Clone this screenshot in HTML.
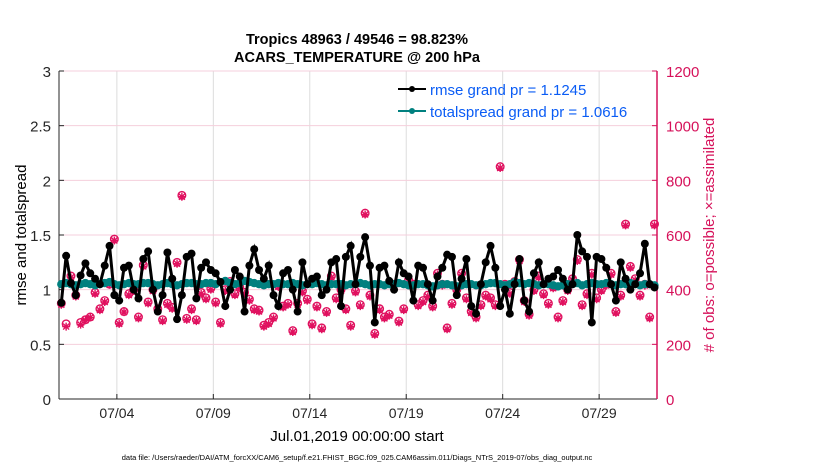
<!DOCTYPE html>
<html><head><meta charset="utf-8"><style>
body{margin:0;background:#fff;}
svg text{font-family:"Liberation Sans",Arial,sans-serif;}
</style></head><body>
<svg width="830" height="470" xmlns="http://www.w3.org/2000/svg">
<g id="grid"></g>
<g id="axes"></g>
<g id="marks"></g>
<text x="357" y="44" font-size="14.5" font-weight="bold" text-anchor="middle">Tropics 48963 / 49546 = 98.823%</text>
<text x="357" y="62" font-size="14.5" font-weight="bold" text-anchor="middle">ACARS_TEMPERATURE @ 200 hPa</text>
<text transform="translate(26,235) rotate(-90)" font-size="15" text-anchor="middle">rmse and totalspread</text>
<text transform="translate(714,235) rotate(-90)" font-size="15" text-anchor="middle" fill="#d6115a"># of obs: o=possible; ×=assimilated</text>
<text x="357" y="441" font-size="15" text-anchor="middle">Jul.01,2019 00:00:00 start</text>
<text x="357" y="460" font-size="7.5" text-anchor="middle">data file: /Users/raeder/DAI/ATM_forcXX/CAM6_setup/f.e21.FHIST_BGC.f09_025.CAM6assim.011/Diags_NTrS_2019-07/obs_diag_output.nc</text>
<g>
<line x1="398" y1="89" x2="426" y2="89" stroke="#000" stroke-width="2"/><circle cx="412" cy="89" r="3" fill="#000"/>
<text x="430" y="95" font-size="15" fill="#0a5cf5">rmse grand pr = 1.1245</text>
<line x1="398" y1="111" x2="426" y2="111" stroke="#00807f" stroke-width="2"/><circle cx="412" cy="111" r="3" fill="#00807f"/>
<text x="430" y="117" font-size="15" fill="#0a5cf5">totalspread grand pr = 1.0616</text>
</g>
</svg>
<script>
const xTickLabels=["07/04","07/09","07/14","07/19","07/24","07/29"];
const xTickDays=[3,8,13,18,23,28];
const yLeftTicks=[0,0.5,1,1.5,2,2.5,3];
const yRightTicks=[0,200,400,600,800,1000,1200];
const rmse=[0.88,1.31,1.06,0.95,1.13,1.24,1.15,1.10,1.05,1.22,1.40,0.95,0.90,1.20,1.22,1.00,0.92,1.28,1.35,1.00,
0.80,0.95,1.34,1.10,0.73,0.95,1.30,1.33,0.92,1.20,1.25,1.18,1.15,1.07,0.85,1.00,1.18,1.12,0.80,1.22,
1.37,1.18,1.10,1.22,0.95,0.85,1.15,1.18,1.00,0.80,1.25,1.05,1.10,1.12,0.95,1.00,1.25,1.28,0.85,1.30,
1.40,1.05,1.30,1.48,1.22,0.70,1.20,1.22,1.08,1.00,1.25,1.15,1.12,0.90,1.22,1.20,1.05,0.90,1.12,1.20,
1.32,1.30,0.95,1.10,1.28,0.85,0.78,1.05,1.25,1.40,1.20,0.85,1.00,0.78,1.05,1.28,0.90,0.80,1.15,1.25,
1.05,1.10,1.12,1.18,1.10,1.00,1.05,1.50,1.35,1.30,0.70,1.30,1.28,1.20,1.05,0.90,1.25,1.10,1.00,1.05,1.15,1.42,1.05,1.02];
const spread=[1.05,1.06,1.05,1.04,1.05,1.06,1.05,1.04,1.05,1.06,1.07,1.05,1.04,1.05,1.06,1.05,1.05,1.06,1.06,1.05,
1.04,1.05,1.06,1.05,1.04,1.05,1.06,1.06,1.05,1.05,1.06,1.06,1.05,1.07,1.08,1.06,1.05,1.06,1.08,1.07,
1.06,1.05,1.04,1.05,1.05,1.06,1.05,1.05,1.06,1.05,1.04,1.05,1.05,1.06,1.05,1.04,1.05,1.05,1.05,1.04,
1.05,1.05,1.06,1.05,1.04,1.05,1.05,1.04,1.05,1.05,1.06,1.05,1.04,1.04,1.05,1.05,1.04,1.03,1.04,1.05,
1.05,1.04,1.03,1.04,1.05,1.05,1.04,1.04,1.05,1.06,1.06,1.05,1.04,1.05,1.07,1.06,1.05,1.06,1.05,1.04,
1.05,1.05,1.04,1.03,1.04,1.05,1.05,1.06,1.04,1.05,1.06,1.05,1.05,1.06,1.05,1.04,1.05,1.05,1.06,1.05,1.04,1.05,1.05,1.04];
const obsPossible=[350,275,450,380,280,290,300,390,330,360,420,585,280,320,385,400,300,490,355,400,
330,290,350,335,500,745,295,330,290,390,370,405,355,280,400,430,385,410,390,365,
330,325,270,280,300,415,340,350,250,350,395,365,275,340,260,320,450,370,400,330,
270,395,345,680,380,240,330,300,310,420,285,330,435,420,345,360,380,340,460,420,
260,350,400,460,370,320,300,345,380,370,345,850,420,390,430,510,360,310,400,450,
385,350,410,300,360,400,440,510,345,385,460,370,400,420,460,320,380,640,485,440,380,420,300,640];
const obsAssim=[345,265,445,375,272,288,298,385,325,355,418,580,275,318,380,395,295,485,350,395,
325,285,345,330,495,740,290,325,285,385,365,400,350,275,395,425,380,405,385,360,
325,320,265,275,295,410,335,345,245,345,390,360,270,335,255,315,445,365,395,325,
265,390,340,675,375,235,325,295,305,415,280,325,430,415,340,355,375,335,455,415,
255,345,395,455,365,315,295,340,375,365,340,845,415,385,425,505,355,305,395,445,
380,345,405,295,355,395,435,505,340,380,455,365,395,415,455,315,375,635,480,435,375,415,295,635];
const X0=59,X1=657,Y0=399,Y1=71,NS="http://www.w3.org/2000/svg";
const xDay=d=>X0+(X1-X0)*d/31;
const xIdx=i=>xDay(i*0.25+0.12);
const yL=v=>Y0-(Y0-Y1)*v/3;
const yR=n=>Y0-(Y0-Y1)*n/1200;
function mk(tag,a,p){const e=document.createElementNS(NS,tag);for(const k in a)e.setAttribute(k,a[k]);p.appendChild(e);return e;}
const grid=document.getElementById('grid'),axes=document.getElementById('axes'),marks=document.getElementById('marks');
mk('rect',{x:X0,y:Y1,width:X1-X0,height:Y0-Y1,fill:'#fff'},grid);
xTickDays.forEach((d,i)=>{
 const l=mk('line',{x1:xDay(d),x2:xDay(d),y1:Y1,y2:Y0,stroke:'#dcdcdc','stroke-width':1},grid);
 
 
 mk('line',{x1:xDay(d),x2:xDay(d),y1:Y0,y2:Y0-5,stroke:'#262626'},axes);
 const t=mk('text',{x:xDay(d),y:Y0+19,'font-size':14,'text-anchor':'middle',fill:'#262626'},axes);
 t.textContent=xTickLabels[i];
 
 
});
yRightTicks.forEach(n=>{
 const l=mk('line',{x1:X0,x2:X1,y1:yR(n),y2:yR(n),stroke:'#f5cfdc','stroke-width':1},grid);
 
 
 mk('line',{x1:X1-5,x2:X1,y1:yR(n),y2:yR(n),stroke:'#d6115a'},axes);
 const t=mk('text',{x:X1+9,y:yR(n)+6,'font-size':15,fill:'#d6115a'},axes);
 t.textContent=n;
 
 
});
yLeftTicks.forEach(v=>{
 mk('line',{x1:X0,x2:X0+5,y1:yL(v),y2:yL(v),stroke:'#262626'},axes);
 const t=mk('text',{x:X0-8,y:yL(v)+6,'font-size':15,'text-anchor':'end',fill:'#262626'},axes);
 t.textContent=v;
 
 
});
mk('line',{x1:X0,x2:X1,y1:Y0,y2:Y0,stroke:'#262626'},axes);
mk('line',{x1:X0,x2:X0,y1:Y1,y2:Y0,stroke:'#262626'},axes);
mk('line',{x1:X1,x2:X1,y1:Y1,y2:Y0,stroke:'#d6115a','stroke-width':1.5},axes);
obsPossible.forEach((n,i)=>{
 const c=mk('circle',{cx:xIdx(i),cy:yR(n),r:3.8,fill:'none',stroke:'#e0115f','stroke-width':1.4},marks);
 
 
});
obsAssim.forEach((n,i)=>{
 const x=xIdx(i),y=yR(n);
 const g=mk('path',{d:`M${x-4},${y}H${x+4}M${x},${y-4}V${y+4}M${x-3},${y-3}L${x+3},${y+3}M${x-3},${y+3}L${x+3},${y-3}`,stroke:'#e0115f','stroke-width':1.4},marks);
 
 
});
const sp=mk('polyline',{points:spread.map((v,i)=>xIdx(i)+','+yL(v)).join(' '),fill:'none',stroke:'#00807f','stroke-width':3.5},marks);


spread.forEach((v,i)=>{
 const c=mk('circle',{cx:xIdx(i),cy:yL(v),r:4.2,fill:'#00807f'},marks);
 
 
});
const rl=mk('polyline',{points:rmse.map((v,i)=>xIdx(i)+','+yL(v)).join(' '),fill:'none',stroke:'#000','stroke-width':3},marks);


rmse.forEach((v,i)=>{
 const c=mk('circle',{cx:xIdx(i),cy:yL(v),r:4,fill:'#000'},marks);
 
 
});
</script>
</body></html>
